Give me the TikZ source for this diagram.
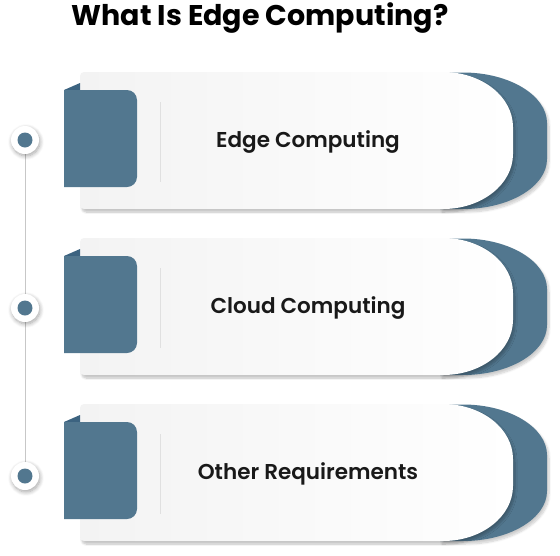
\documentclass[tikz,border=0pt]{standalone}
\usepackage{fontspec}
\setmainfont{Poppins}
\newfontfamily\titlefont{Poppins}[UprightFont={* Bold}]
\newfontfamily\labelfont{Poppins}[UprightFont={* SemiBold}]
\usetikzlibrary{shadows.blur}
\definecolor{tabblue}{HTML}{52778F}
\definecolor{folddark}{HTML}{3C6380}
\definecolor{cardleft}{HTML}{F3F3F3}
\tikzset{
  cardbody/.style={left color=cardleft, right color=white, blur shadow={shadow xshift=2pt, shadow yshift=-3pt, shadow blur steps=8, shadow opacity=25}},
  backshape/.style={fill=tabblue, blur shadow={shadow xshift=2pt, shadow yshift=-3pt, shadow blur steps=8, shadow opacity=20}},
  tabshape/.style={fill=tabblue},
  foldshape/.style={fill=folddark},
  divider/.style={draw=black!12, line width=0.8pt},
  label/.style={font=\labelfont\fontsize{21.5}{25}\selectfont, text=black!90, anchor=base, inner sep=0pt},
  ring/.style={circle, fill=white, minimum size=28pt, inner sep=0pt, blur shadow={shadow xshift=1pt, shadow yshift=-2pt, shadow blur steps=8, shadow opacity=35, shadow blur radius=4pt}},
  dotc/.style={circle, fill=tabblue, minimum size=15pt, inner sep=0pt},
  spine/.style={draw=black!22, line width=1pt}
}
\begin{document}
\begin{tikzpicture}[x=1pt,y=-1pt]
\useasboundingbox (0,0) rectangle (560,555);
\node[font=\titlefont\fontsize{28.5}{34}\selectfont, anchor=base, inner sep=0pt] (title) at (260,25) {What Is Edge Computing?};
% spine
\coordinate (s1) at (25,140);
\coordinate (s3) at (25,476);
\draw[spine] (s1) -- (s3);
\foreach \i/\yy/\cy/\txt in {1/72/140/Edge Computing, 2/238/308/Cloud Computing, 3/404/476/Other Requirements}{
  \begin{scope}[shift={(0,\yy)}]
    \path[backshape] (440,0.5) -- (463,0.5) .. controls (509.4,0.5) and (547,23.4) .. (547,51) -- (547,87) .. controls (547,114.6) and (509.4,137) .. (463,137) -- (440,137) -- cycle;
    \path[cardbody] (443,0) .. controls (481.7,0) and (513,24.6) .. (513,55) -- (513,82) .. controls (513,112.4) and (481.7,137) .. (443,137) {[rounded corners=4] -- (80,137) -- (80,0)} -- cycle;
    \path[foldshape] (64,18) -- (80,11) -- (80,18) -- cycle;
    \path[tabshape] (64,115) -- (64,18) [rounded corners=10] -- (137,18) -- (137,115) [sharp corners] -- cycle;
    \coordinate (dt\i) at (160,30);
    \coordinate (db\i) at (160,110);
    \draw[divider] (dt\i) -- (db\i);
    \node[label] (lab\i) at (308,75) {\txt};
  \end{scope}
  \node[ring] (ring\i) at (25,\cy) {};
  \node[dotc] (dot\i) at (ring\i) {};
}
\end{tikzpicture}
\end{document}
